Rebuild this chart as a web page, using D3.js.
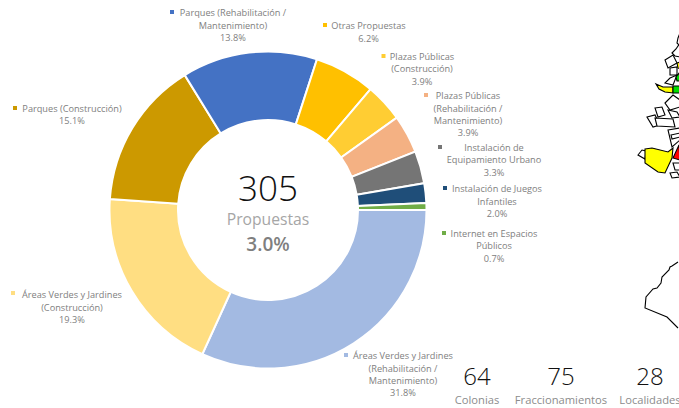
<!DOCTYPE html>
<html><head><meta charset="utf-8">
<script src="https://cdn.jsdelivr.net/npm/d3@7"></script>
<style>html,body{margin:0;padding:0;background:#fff;overflow:hidden}svg{display:block}text{font-family:"Open Sans",sans-serif}</style>
</head><body><svg id="c" width="679" height="408"></svg>
<script>
const categories=["Áreas Verdes y Jardines (Rehabilitación / Mantenimiento)","Áreas Verdes y Jardines (Construcción)","Parques (Construcción)","Parques (Rehabilitación / Mantenimiento)","Otras Propuestas","Plazas Públicas (Construcción)","Plazas Públicas (Rehabilitación / Mantenimiento)","Instalación de Equipamiento Urbano","Instalación de Juegos Infantiles","Internet en Espacios Públicos"];
const values=[31.8,19.3,15.1,13.8,6.2,3.9,3.9,3.3,2.0,0.7];
const colors=["#A3BAE2","#FFDE82","#CC9900","#4472C4","#FFC000","#FFCD33","#F4B183","#757575","#1F4E79","#70AD47"];
const labelLines=[["Áreas Verdes y Jardines","(Rehabilitación /","Mantenimiento)","31.8%"],["Áreas Verdes y Jardines","(Construcción)","19.3%"],["Parques (Construcción)","15.1%"],["Parques (Rehabilitación /","Mantenimiento)","13.8%"],["Otras Propuestas","6.2%"],["Plazas Públicas","(Construcción)","3.9%"],["Plazas Públicas","(Rehabilitación /","Mantenimiento)","3.9%"],["Instalación de","Equipamiento Urbano","3.3%"],["Instalación de Juegos","Infantiles","2.0%"],["Internet en Espacios","Públicos","0.7%"]];
const labelX=[403,72,72,233,368.5,422,468,494,497,494];
const labelY=[356,295,108.5,13,26,56.5,96,147.5,189,233.5];
const markerX=[346,13,15,172,325,383.5,426,440,445,444];
const markerY=[355,293,108,12,25,56,95,147,188,233];
const stats=[["64","Colonias"],["75","Fraccionamientos"],["28","Localidades"]];
const statX=[477,561,650];
const mapFilled=[
 {fill:"#ffff00",pts:[[645,149],[652,148],[668,152],[673,148],[672,158],[665,173],[658,172],[645,163]]},
 {fill:"#ff0000",pts:[[673,158],[679,145],[680,160]]},
 {fill:"#ffff00",pts:[[656,84],[663,87],[673,87],[673,93],[665,92],[659,89]]},
 {fill:"#00dd00",pts:[[673,86],[680,86],[680,93],[673,93]]},
 {fill:"#00dd00",pts:[[676,77],[680,72],[680,81],[677,81]]},
 {fill:"#ffff00",pts:[[677,63],[680,62],[680,69],[678,68]]}];
const mapOutlines=[
 [[638,155],[642,150],[646,151],[645,159]],
 [[672,53],[676,49],[680,43],[680,57],[675,56]],
 [[665,60],[673,55],[677,63],[668,68]],
 [[670,68],[677,67],[677,75],[670,75]],
 [[670,78],[677,75],[673,85],[665,83]],
 [[647,117],[655,115],[660,125],[653,127]],
 [[655,108],[662,107],[665,115],[658,117]],
 [[665,103],[673,95],[680,100],[680,107],[670,110]],
 [[668,110],[677,112],[680,117],[672,118]],
 [[655,118],[673,119],[675,127],[657,126]],
 [[668,130],[680,128],[680,140],[672,147]],
 [[671,135],[680,133],[680,137],[672,139]],
 [[670,173],[677,172],[680,177],[672,178]],
 [[673,163],[680,163],[680,170],[675,170]]];
const coast=[[678,262],[672,266],[670,267],[669,270],[662,277],[661,283],[657,288],[653,289],[646,297],[645,308],[667,317],[678,328]];
const topTrace=[[680,33],[678,38],[677,43],[680,46]];

const svg=d3.select("#c");
const cx=268,cy=210;
const pie=d3.pie().sort(null).startAngle(Math.PI/2).endAngle(Math.PI*2.5);
const arc=d3.arc().innerRadius(90).outerRadius(158.5);
const g=svg.append("g").attr("transform",`translate(${cx},${cy})`);
g.selectAll("path").data(pie(values)).join("path").attr("d",arc).attr("fill",(d,i)=>colors[i]).attr("stroke","#fff").attr("stroke-width",2);

const lab=svg.append("g").attr("fill","#808080").attr("font-size",9.2).attr("text-anchor","middle");
labelLines.forEach((ls,i)=>{
 ls.forEach((t,j)=>lab.append("text").attr("x",labelX[i]).attr("y",labelY[i]+j*12.4).attr("dy","0.35em").text(t));
 svg.append("rect").attr("x",markerX[i]-2).attr("y",markerY[i]-2).attr("width",4).attr("height",4).attr("fill",colors[i]);
});
svg.append("text").attr("x",cx).attr("y",201).attr("text-anchor","middle").attr("font-size",35).attr("font-weight",300).attr("fill","#111").text("305");
svg.append("text").attr("x",cx).attr("y",224.5).attr("text-anchor","middle").attr("font-size",15.7).attr("fill","#a6a6a6").text("Propuestas");
svg.append("text").attr("x",cx).attr("y",250.5).attr("text-anchor","middle").attr("font-size",19).attr("font-weight",600).attr("fill","#7f7f7f").text("3.0%");
stats.forEach((s,i)=>{
 svg.append("text").attr("x",statX[i]).attr("y",385).attr("text-anchor","middle").attr("font-size",24).attr("font-weight",300).attr("fill","#111").text(s[0]);
 svg.append("text").attr("x",statX[i]).attr("y",404).attr("text-anchor","middle").attr("font-size",11.2).attr("fill","#8c8c8c").text(s[1]);
});
const line=d3.line().curve(d3.curveLinearClosed);
const map=svg.append("g").attr("stroke","#000").attr("stroke-width",1.1);
map.selectAll("path.o").data(mapOutlines).join("path").attr("class","o").attr("d",line).attr("fill","#fff");
map.selectAll("path.f").data(mapFilled).join("path").attr("class","f").attr("d",d=>line(d.pts)).attr("fill",d=>d.fill);
map.append("path").attr("d",d3.line()(coast)).attr("fill","none");
map.append("path").attr("d",d3.line()(topTrace)).attr("fill","none");
</script></body></html>
